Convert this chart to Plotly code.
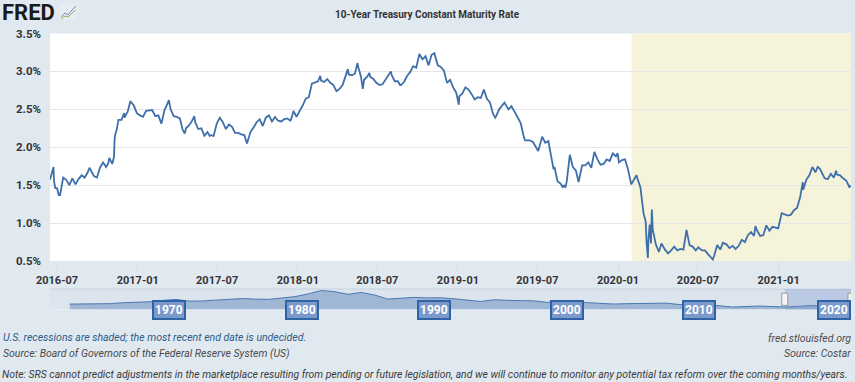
import plotly.graph_objects as go

# ---------------- data: 10-Year Treasury Constant Maturity Rate (%) ----------------
dates = [
 "2016-06-15","2016-06-17","2016-06-23","2016-06-24","2016-06-27","2016-07-01","2016-07-05","2016-07-08",
 "2016-07-15","2016-07-22","2016-07-29","2016-08-05","2016-08-12","2016-08-19","2016-08-26","2016-09-02",
 "2016-09-09","2016-09-13","2016-09-16","2016-09-23","2016-09-30","2016-10-07","2016-10-14","2016-10-21",
 "2016-10-26","2016-10-28","2016-11-04","2016-11-08","2016-11-09","2016-11-10","2016-11-14","2016-11-18",
 "2016-11-25","2016-12-01","2016-12-02","2016-12-09","2016-12-15","2016-12-16","2016-12-23","2016-12-30",
 "2017-01-06","2017-01-13","2017-01-20","2017-01-27","2017-02-03","2017-02-10","2017-02-17","2017-02-24",
 "2017-03-03","2017-03-10","2017-03-13","2017-03-17","2017-03-24","2017-03-31","2017-04-07","2017-04-13",
 "2017-04-18","2017-04-21","2017-04-28","2017-05-05","2017-05-10","2017-05-12","2017-05-19","2017-05-26",
 "2017-06-02","2017-06-09","2017-06-14","2017-06-16","2017-06-23","2017-06-30","2017-07-07","2017-07-14",
 "2017-07-21","2017-07-28","2017-08-04","2017-08-11","2017-08-18","2017-08-25","2017-09-01","2017-09-07",
 "2017-09-15","2017-09-22","2017-09-29","2017-10-06","2017-10-13","2017-10-20","2017-10-27","2017-11-03",
 "2017-11-10","2017-11-17","2017-11-24","2017-12-01","2017-12-08","2017-12-15","2017-12-18","2017-12-22",
 "2017-12-29","2018-01-05","2018-01-12","2018-01-19","2018-01-26","2018-02-02","2018-02-09","2018-02-16",
 "2018-02-21","2018-02-23","2018-03-02","2018-03-09","2018-03-16","2018-03-23","2018-03-30","2018-04-06",
 "2018-04-13","2018-04-20","2018-04-25","2018-04-27","2018-05-04","2018-05-11","2018-05-17","2018-05-18",
 "2018-05-25","2018-05-29","2018-06-01","2018-06-08","2018-06-13","2018-06-15","2018-06-22","2018-06-29",
 "2018-07-06","2018-07-13","2018-07-20","2018-07-27","2018-08-01","2018-08-03","2018-08-10","2018-08-17",
 "2018-08-22","2018-08-24","2018-08-31","2018-09-07","2018-09-14","2018-09-21","2018-09-28","2018-10-05",
 "2018-10-12","2018-10-19","2018-10-26","2018-11-02","2018-11-08","2018-11-16","2018-11-23","2018-11-30",
 "2018-12-07","2018-12-14","2018-12-21","2018-12-28","2019-01-03","2019-01-04","2019-01-11","2019-01-18",
 "2019-01-25","2019-02-01","2019-02-08","2019-02-15","2019-02-22","2019-03-01","2019-03-08","2019-03-15",
 "2019-03-22","2019-03-27","2019-03-29","2019-04-05","2019-04-12","2019-04-17","2019-04-26","2019-05-03",
 "2019-05-10","2019-05-17","2019-05-24","2019-05-31","2019-06-03","2019-06-07","2019-06-14","2019-06-21",
 "2019-06-28","2019-07-03","2019-07-12","2019-07-19","2019-07-26","2019-08-01","2019-08-07","2019-08-09",
 "2019-08-16","2019-08-23","2019-08-28","2019-08-30","2019-09-03","2019-09-06","2019-09-13","2019-09-20",
 "2019-09-27","2019-10-03","2019-10-11","2019-10-18","2019-10-25","2019-11-01","2019-11-08","2019-11-15",
 "2019-11-22","2019-11-29","2019-12-06","2019-12-13","2019-12-20","2019-12-27","2019-12-31","2020-01-03",
 "2020-01-10","2020-01-17","2020-01-24","2020-01-31","2020-02-07","2020-02-12","2020-02-14","2020-02-21",
 "2020-02-28","2020-03-04","2020-03-06","2020-03-09","2020-03-10","2020-03-13","2020-03-16","2020-03-18",
 "2020-03-20","2020-03-27","2020-04-03","2020-04-09","2020-04-17","2020-04-24","2020-05-01","2020-05-08",
 "2020-05-15","2020-05-22","2020-05-29","2020-06-05","2020-06-12","2020-06-19","2020-06-26","2020-07-02",
 "2020-07-10","2020-07-17","2020-07-24","2020-07-31","2020-08-04","2020-08-07","2020-08-14","2020-08-21",
 "2020-08-27","2020-09-04","2020-09-11","2020-09-18","2020-09-25","2020-10-02","2020-10-09","2020-10-16",
 "2020-10-23","2020-10-30","2020-11-06","2020-11-09","2020-11-13","2020-11-20","2020-11-27","2020-12-04",
 "2020-12-11","2020-12-18","2020-12-24","2020-12-31","2021-01-08","2021-01-15","2021-01-22","2021-01-29",
 "2021-02-05","2021-02-12","2021-02-19","2021-02-25","2021-02-26","2021-03-05","2021-03-12","2021-03-19",
 "2021-03-26","2021-03-31","2021-04-05","2021-04-09","2021-04-16","2021-04-23","2021-04-30","2021-05-07",
 "2021-05-12","2021-05-14","2021-05-21","2021-05-28","2021-06-04","2021-06-10","2021-06-11","2021-06-14",
]
rates = [
 1.57,1.62,1.74,1.56,1.46,1.46,1.37,1.37,
 1.60,1.57,1.50,1.59,1.51,1.58,1.63,1.60,
 1.67,1.73,1.70,1.62,1.60,1.73,1.80,1.74,
 1.79,1.86,1.78,1.88,2.07,2.15,2.23,2.36,
 2.36,2.45,2.39,2.47,2.60,2.60,2.55,2.45,
 2.42,2.40,2.48,2.49,2.49,2.41,2.42,2.31,
 2.49,2.58,2.62,2.50,2.41,2.40,2.38,2.24,
 2.18,2.25,2.29,2.35,2.41,2.33,2.24,2.25,
 2.15,2.20,2.15,2.16,2.15,2.31,2.39,2.33,
 2.24,2.30,2.27,2.19,2.19,2.17,2.16,2.05,
 2.20,2.26,2.33,2.37,2.28,2.39,2.42,2.34,
 2.40,2.35,2.34,2.37,2.38,2.35,2.39,2.48,
 2.40,2.48,2.55,2.64,2.66,2.84,2.85,2.87,
 2.94,2.88,2.86,2.90,2.85,2.82,2.74,2.77,
 2.82,2.96,3.03,2.96,2.95,2.97,3.11,3.07,
 2.93,2.77,2.89,2.93,2.98,2.93,2.90,2.85,
 2.82,2.83,2.89,2.96,3.00,2.95,2.87,2.87,
 2.82,2.82,2.86,2.94,2.99,3.07,3.05,3.23,
 3.16,3.20,3.08,3.22,3.24,3.08,3.06,3.01,
 2.85,2.89,2.79,2.72,2.56,2.67,2.71,2.79,
 2.76,2.70,2.63,2.66,2.65,2.76,2.64,2.59,
 2.44,2.39,2.41,2.50,2.56,2.59,2.50,2.54,
 2.47,2.39,2.32,2.14,2.09,2.09,2.09,2.07,
 2.00,1.95,2.14,2.06,2.08,1.90,1.71,1.74,
 1.55,1.52,1.47,1.50,1.47,1.55,1.90,1.74,
 1.69,1.54,1.76,1.76,1.80,1.73,1.94,1.84,
 1.77,1.78,1.84,1.82,1.92,1.88,1.92,1.80,
 1.83,1.84,1.70,1.51,1.59,1.63,1.59,1.47,
 1.13,1.02,0.74,0.54,0.76,0.98,0.73,1.18,
 0.92,0.72,0.62,0.73,0.65,0.60,0.64,0.69,
 0.64,0.66,0.65,0.91,0.71,0.69,0.64,0.68,
 0.64,0.64,0.59,0.55,0.52,0.57,0.71,0.65,
 0.74,0.72,0.67,0.70,0.66,0.70,0.78,0.75,
 0.84,0.88,0.83,0.96,0.90,0.83,0.84,0.97,
 0.90,0.95,0.94,0.93,1.13,1.11,1.10,1.11,
 1.17,1.20,1.34,1.54,1.44,1.57,1.63,1.74,
 1.67,1.74,1.72,1.67,1.59,1.58,1.65,1.60,
 1.69,1.64,1.63,1.59,1.56,1.49,1.47,1.50,
]

# navigator (full history, annual averages)
nav_years = list(range(1962, 2022))
nav_rates = [
 3.95,4.00,4.19,4.28,4.93,5.07,5.64,6.67,7.35,6.16,
 6.21,6.85,7.56,7.99,7.61,7.42,8.41,9.43,11.43,13.92,
 13.01,11.10,12.46,10.62,7.67,8.39,8.85,8.49,8.55,7.86,
 7.01,5.87,7.09,6.57,6.44,6.35,5.26,5.65,6.03,5.02,
 4.61,4.01,4.27,4.29,4.80,4.63,3.66,3.26,3.22,2.78,
 1.80,2.35,2.54,2.14,1.84,2.33,2.91,2.14,0.89,1.45,
]
nav_dates = [f"{y}-07-01" for y in nav_years]
nav_labels = ["1970", "1980", "1990", "2000", "2010", "2020"]

y_ticks = [0.5, 1.0, 1.5, 2.0, 2.5, 3.0, 3.5]
x_ticks = ["2016-07-01", "2017-01-01", "2017-07-01", "2018-01-01", "2018-07-01",
           "2019-01-01", "2019-07-01", "2020-01-01", "2020-07-01", "2021-01-01"]
x_ticktext = [d[:7] for d in x_ticks]

x_start, x_end = "2016-06-15", "2021-06-15"
recession_start = "2020-02-01"
nav_start = "1961-01-01"

# ---------------- figure ----------------
W, H = 855, 382
FONT = "Roboto, Lato, DejaVu Sans Condensed, sans-serif"
BG = "#e1e9f0"
LINE = "#3f6fab"

def py(pix):  # pixel row -> paper fraction
    return 1 - pix / H

def px(pix):
    return pix / W

fig = go.Figure()
fig.add_trace(go.Scatter(x=dates, y=rates, mode="lines",
                         line=dict(color=LINE, width=1.8), xaxis="x", yaxis="y",
                         hoverinfo="x+y", showlegend=False))
fig.add_trace(go.Scatter(x=nav_dates, y=nav_rates, mode="lines", fill="tozeroy",
                         line=dict(color="#4a77b0", width=1), fillcolor="rgba(74,119,176,0.42)",
                         xaxis="x2", yaxis="y2", hoverinfo="skip", showlegend=False))

shapes = [
    # navigator band
    dict(type="rect", xref="x2 domain", yref="y2 domain", x0=0, x1=1, y0=0, y1=1,
         fillcolor="#dce5ee", line=dict(width=0), layer="below"),
    dict(type="line", xref="x2 domain", yref="y2 domain", x0=0, x1=1, y0=1, y1=1,
         line=dict(color="#c6d2e0", width=1)),
    # recession shading
    dict(type="rect", xref="x", yref="y domain", x0=recession_start, x1=x_end, y0=0, y1=1,
         fillcolor="#f5f3da", line=dict(width=0), layer="below"),
    # navigator selection window
    dict(type="rect", xref="x2", yref="y2 domain", x0=x_start, x1=x_end, y0=0, y1=1,
         fillcolor="rgba(110,140,200,0.30)", line=dict(width=0)),
]
for hx in (x_start, x_end):
    shapes.append(dict(type="rect", xref="x2", yref="y2 domain", xsizemode="pixel",
                       xanchor=hx, x0=-3, x1=3, y0=0.2, y1=0.8,
                       fillcolor="#f4f4f4", line=dict(color="#999999", width=1)))
# FRED logo icon
shapes += [
    dict(type="rect", xref="paper", yref="paper", x0=px(60), x1=px(77), y0=py(20), y1=py(4),
         fillcolor="#e9ecee", line=dict(width=0)),
    dict(type="path", xref="paper", yref="paper",
         path=f"M {px(61)} {py(17)} L {px(65)} {py(13)} L {px(68)} {py(15)} L {px(72)} {py(10)} L {px(76)} {py(6)}",
         line=dict(color="#6a8fc4", width=1)),
    dict(type="path", xref="paper", yref="paper",
         path=f"M {px(61)} {py(19)} L {px(65)} {py(16)} L {px(68)} {py(17)} L {px(72)} {py(13)} L {px(76)} {py(10)}",
         line=dict(color="#8fb56a", width=1)),
]

annotations = [
    dict(text="<b>FRED</b>", xref="paper", yref="paper", x=px(0), y=py(12), xanchor="left", yanchor="middle",
         showarrow=False, font=dict(family="Roboto, DejaVu Sans, sans-serif", size=22, color="#1a1a1a")),
    dict(text="<b>10-Year Treasury Constant Maturity Rate</b>", xref="paper", yref="paper",
         x=px(427), y=py(15), xanchor="center", yanchor="middle", showarrow=False,
         font=dict(family=FONT, size=10, color="#333333")),
    dict(text="<i>U.S. recessions are shaded; the most recent end date is undecided.</i>", xref="paper", yref="paper",
         x=px(1), y=py(337), xanchor="left", yanchor="middle", showarrow=False,
         font=dict(family=FONT, size=10.5, color="#2b5a88")),
    dict(text="<i>Source: Board of Governors of the Federal Reserve System (US)</i>", xref="paper", yref="paper",
         x=px(1), y=py(353), xanchor="left", yanchor="middle", showarrow=False,
         font=dict(family=FONT, size=10.5, color="#4a4a4a")),
    dict(text="<i>fred.stlouisfed.org</i>", xref="paper", yref="paper",
         x=px(853), y=py(338), xanchor="right", yanchor="middle", showarrow=False,
         font=dict(family=FONT, size=10.5, color="#4a4a4a")),
    dict(text="<i>Source: Costar</i>", xref="paper", yref="paper",
         x=px(853), y=py(353), xanchor="right", yanchor="middle", showarrow=False,
         font=dict(family=FONT, size=10.5, color="#4a4a4a")),
    dict(text="<i>Note: SRS cannot predict adjustments in the marketplace resulting from pending or future legislation, "
              "and we will continue to monitor any potential tax reform over the coming months/years.</i>",
         xref="paper", yref="paper", x=px(0), y=py(374), xanchor="left", yanchor="middle", showarrow=False,
         font=dict(family=FONT, size=10.4, color="#3a3a3a")),
]
for lab in nav_labels:
    last = lab == nav_labels[-1]
    annotations.append(dict(
        text=f"<b>{lab}</b>", xref="x2", yref="paper",
        x=(x_end if last else f"{lab}-01-01"), y=py(310),
        xanchor=("right" if last else "center"), yanchor="middle", showarrow=False,
        font=dict(family=FONT, size=12, color="white"),
        bgcolor="#7b9acb", bordercolor="#2e64a6", borderwidth=2, borderpad=1))

fig.update_layout(
    width=W, height=H, autosize=False,
    margin=dict(l=0, r=0, t=0, b=0, pad=0),
    paper_bgcolor=BG, plot_bgcolor="white",
    font=dict(family=FONT, size=11, color="#333333"),
    showlegend=False,
    xaxis=dict(domain=[px(50), px(851)], anchor="y", type="date", range=[x_start, x_end],
               tickvals=x_ticks, ticktext=[f"<b>{t}</b>" for t in x_ticktext],
               ticks="outside", ticklen=9, tickcolor="#d3dbe6", tickwidth=1, automargin=False,
               showgrid=False, zeroline=False, showline=False,
               tickfont=dict(family=FONT, size=11, color="#333333")),
    yaxis=dict(domain=[py(261), py(33.5)], anchor="x", range=[0.5, 3.5],
               tickvals=y_ticks, ticktext=[f"<b>{v:.1f}%</b>" for v in y_ticks],
               ticks="", ticklabelstandoff=8, automargin=False,
               showgrid=True, gridcolor="#e6e6e6", gridwidth=1, zeroline=False, showline=False,
               tickfont=dict(family=FONT, size=11.5, color="#333333")),
    xaxis2=dict(domain=[px(50), px(851)], anchor="y2", type="date", range=[nav_start, x_end],
                automargin=False,
                showticklabels=False, showgrid=False, zeroline=False, showline=False, ticks=""),
    yaxis2=dict(domain=[py(309.5), py(289)], anchor="x2", range=[0, 15], automargin=False,
                showticklabels=False, showgrid=False, zeroline=False, showline=False, ticks=""),
    shapes=shapes,
    annotations=annotations,
)

fig.write_html("out.html", config={"displayModeBar": False},
               post_script="document.body.style.margin='0';document.body.style.overflow='hidden';")
